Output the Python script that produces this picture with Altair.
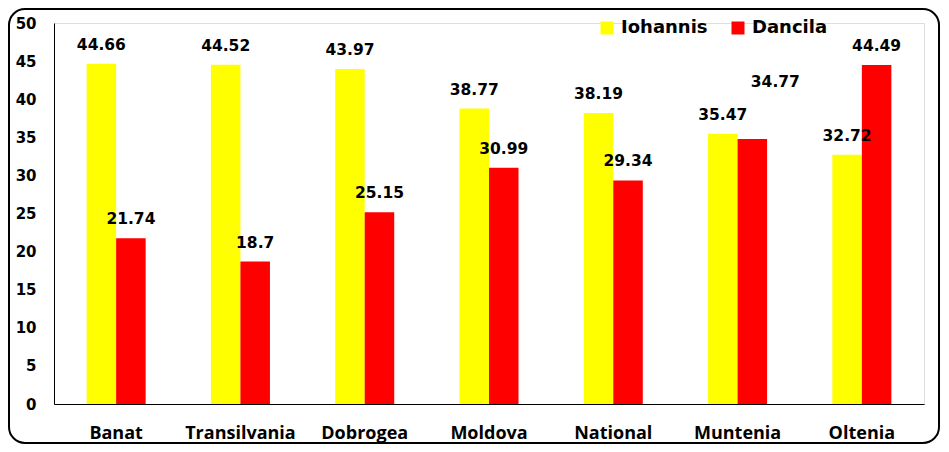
import altair as alt
import pandas as pd

regions = ["Banat", "Transilvania", "Dobrogea", "Moldova", "National", "Muntenia", "Oltenia"]
iohannis = [44.66, 44.52, 43.97, 38.77, 38.19, 35.47, 32.72]
dancila = [21.74, 18.7, 25.15, 30.99, 29.34, 34.77, 44.49]
series = ["Iohannis", "Dancila"]
colors = ["#FFFF00", "#FF0000"]
y_ticks = [0, 5, 10, 15, 20, 25, 30, 35, 40, 45, 50]

rows = []
for r, a, b in zip(regions, iohannis, dancila):
    rows.append({"region": r, "series": series[0], "value": a, "label": f"{a:g}"})
    rows.append({"region": r, "series": series[1], "value": b, "label": f"{b:g}"})
df = pd.DataFrame(rows)

FONT = "DejaVu Sans"

x_enc = alt.X("region:N", sort=regions, title=None,
              scale=alt.Scale(paddingInner=0.525, paddingOuter=0.2625),
              axis=alt.Axis(labelAngle=0, labelFont="Open Sans", labelFontSize=18,
                            labelFontWeight="bold", labelColor="black", labelPadding=20,
                            ticks=False, domainColor="black", domainWidth=1))
xo_enc = alt.XOffset("series:N", sort=series, scale=alt.Scale(paddingInner=0, paddingOuter=0))
y_enc = alt.Y("value:Q", title=None,
              scale=alt.Scale(domain=[0, 50], nice=False),
              axis=alt.Axis(values=y_ticks, tickCount=11, grid=False, ticks=False, labelFont=FONT,
                            labelFontSize=15, labelFontWeight="bold", labelColor="black",
                            labelPadding=18, labelOverlap=False, labelFlush=False,
                            domainColor="black", domainWidth=1))

base = alt.Chart(df)

frame = alt.Chart(pd.DataFrame({"k": [0]})).mark_rect(
    fill="transparent", stroke="black", strokeWidth=2, cornerRadius=16
).encode(x=alt.value(-45), x2=alt.value(885), y=alt.value(-14), y2=alt.value(420))

bars = base.mark_bar().encode(
    x=x_enc, xOffset=xo_enc, y=y_enc,
    color=alt.Color("series:N", sort=series,
                    scale=alt.Scale(domain=series, range=colors),
                    legend=alt.Legend(title=None, orient="none", direction="horizontal",
                                      legendX=544, legendY=-4, symbolType="square",
                                      symbolSize=169, symbolStrokeWidth=0,
                                      labelFont=FONT, labelFontSize=18, labelFontWeight="bold",
                                      labelColor="black", labelOffset=5, columnPadding=21,
                                      padding=0))
)

text_cfg = dict(font=FONT, fontSize=15.5, fontWeight="bold", color="black",
                align="center", baseline="alphabetic")

labels = base.transform_filter(
    "!(datum.region == 'Muntenia' && datum.series == 'Dancila')"
).mark_text(dy=-14, **text_cfg).encode(
    x=x_enc, xOffset=xo_enc, y=y_enc, text="label:N")

label_moved = base.transform_filter(
    "datum.region == 'Muntenia' && datum.series == 'Dancila'"
).mark_text(dy=-52, dx=23, **text_cfg).encode(
    x=x_enc, xOffset=xo_enc, y=y_enc, text="label:N")

chart = alt.layer(frame, bars, labels, label_moved).properties(
    width=870, height=381,
    autosize=alt.AutoSizeParams(type="none"),
    padding={"left": 46, "top": 15, "right": 17, "bottom": 40},
).configure_view(stroke=None).configure(background="white")

chart.save("out.html", embed_options={"renderer": "svg", "actions": False})
